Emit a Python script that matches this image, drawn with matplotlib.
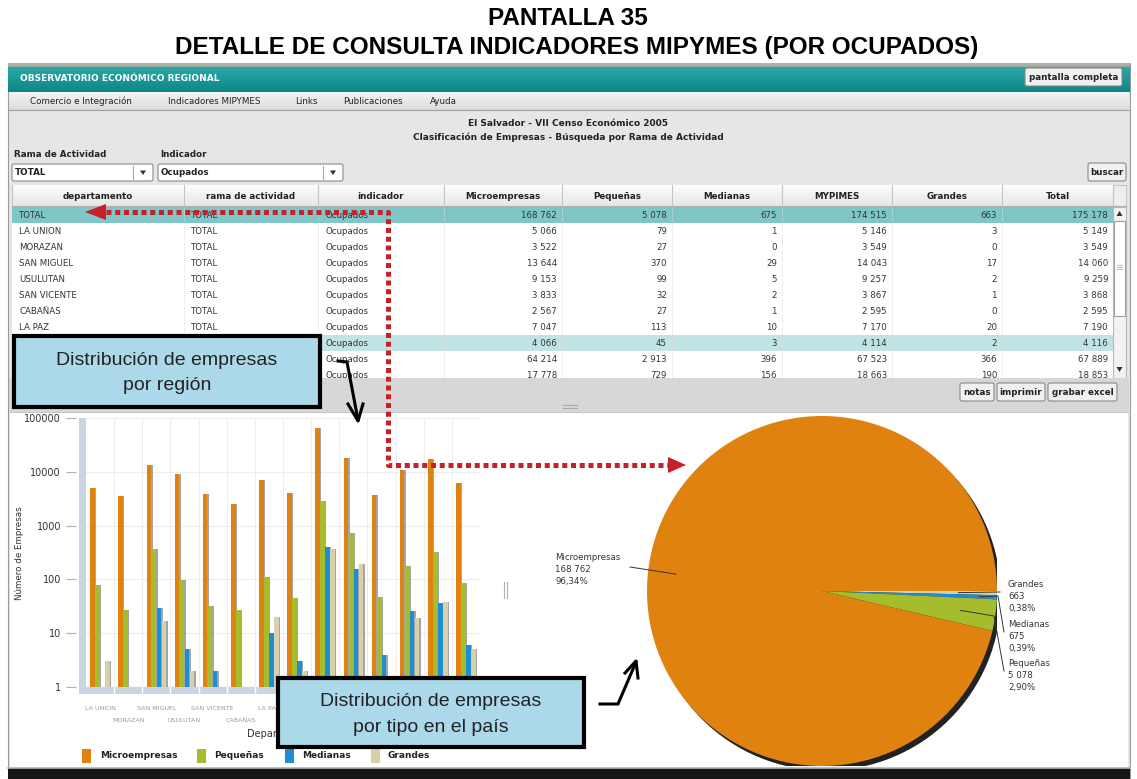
import numpy as np
import matplotlib.pyplot as plt
import matplotlib.colors as mcolors
from matplotlib.patches import Rectangle, Polygon, Circle, FancyBboxPatch

# datos (VII Censo Economico 2005, por ocupados)
departamentos = ["LA UNION", "MORAZAN", "SAN MIGUEL", "USULUTAN", "SAN VICENTE", "CABAÑAS",
                 "LA PAZ", "CUSCATLAN", "SAN SALVADOR", "LA LIBERTAD", "CHALATENANGO",
                 "SONSONATE", "SANTA ANA", "AHUACHAPAN"]
micro = [5066, 3522, 13644, 9153, 3833, 2567, 7047, 4066, 64214, 17778, 3680, 10640, 17400, 6152]
pequenas = [79, 27, 370, 99, 32, 27, 113, 45, 2913, 729, 48, 180, 330, 86]
medianas = [1, 0, 29, 5, 2, 1, 10, 3, 396, 156, 4, 26, 36, 6]
grandes = [3, 0, 17, 2, 1, 0, 20, 2, 366, 190, 0, 19, 38, 5]
tipos = ["Microempresas", "Pequeñas", "Medianas", "Grandes"]
colores = ["#e0820f", "#a5bd2c", "#1d8ed6", "#d8d0a8"]
columnas = ["departamento", "rama de actividad", "indicador", "Microempresas", "Pequeñas",
            "Medianas", "MYPIMES", "Grandes", "Total"]
menu = ["Comercio e Integración", "Indicadores MIPYMES", "Links", "Publicaciones", "Ayuda"]
yticks = [1, 10, 100, 1000, 10000, 100000]

W, H = 1137, 779
fig = plt.figure(figsize=(W / 100, H / 100), dpi=100)
fig.patch.set_facecolor("white")


def caja(x0, y0, x1, y1):
    return [x0 / W, 1 - y1 / H, (x1 - x0) / W, (y1 - y0) / H]


ui = fig.add_axes([0, 0, 1, 1])
ui.axis("off")


def degradado(x0, y0, x1, y1, c1, c2, z=1):
    a = np.array(mcolors.to_rgb(c1))
    b = np.array(mcolors.to_rgb(c2))
    t = np.linspace(0, 1, 32)[:, None]
    img = (a * (1 - t) + b * t)[:, None, :]
    ui.imshow(img, extent=[x0, x1, y1, y0], aspect="auto", zorder=z, interpolation="bilinear")


def rect(x0, y0, x1, y1, fc, ec="none", lw=0.8, z=1):
    ui.add_patch(Rectangle((x0, y0), x1 - x0, y1 - y0, fc=fc, ec=ec, lw=lw, zorder=z))


def boton(x0, y0, x1, y1, txt):
    ui.add_patch(FancyBboxPatch((x0, y0), x1 - x0, y1 - y0, boxstyle="round,pad=0,rounding_size=2",
                                fc="#f0f0f0", ec="#8a8a8a", lw=0.8, zorder=4))
    ui.text((x0 + x1) / 2, (y0 + y1) / 2 + 0.5, txt, ha="center", va="center", fontsize=6.3,
            fontweight="bold", color="#222", zorder=5)


fmt = lambda v: f"{v:,}".replace(",", " ")

# titulo
titulo_font = ["Liberation Sans Narrow", "Liberation Sans", "DejaVu Sans"]
ui.text(568, 18, "PANTALLA 35", ha="center", va="center", fontsize=17.5, fontweight="bold",
        family=titulo_font)
ui.text(577, 47, "DETALLE DE CONSULTA INDICADORES MIPYMES (POR OCUPADOS)", ha="center",
        va="center", fontsize=17.5, fontweight="bold", family=titulo_font)

# marco de la pantalla
rect(8, 63, 1130, 779, "#e6e6e8", "#9a9a9a", z=0)
degradado(8, 63, 1130, 67, "#b8b8a8", "#9aa8a0")
degradado(8, 67, 1130, 92, "#2aa9a7", "#0b8686")
ui.text(20, 78, "OBSERVATORIO ECONÓMICO REGIONAL", ha="left", va="center", fontsize=6.5,
        fontweight="bold", color="white", zorder=3)
boton(1025, 68, 1122, 86, "pantalla completa")

degradado(9, 92, 1129, 110, "#f4f4f4", "#dcdcdc")
ui.plot([9, 1129], [110, 110], color="#a0a0a0", lw=0.8, zorder=2)
for txt, xm in zip(menu, [30, 168, 295, 343, 430]):
    ui.text(xm, 101, txt, ha="left", va="center", fontsize=6.3, color="#222", zorder=3)

ui.text(568, 123, "El Salvador - VII Censo Económico 2005", ha="center", va="center",
        fontsize=6.5, fontweight="bold", color="#222")
ui.text(568, 137, "Clasificación de Empresas - Búsqueda por Rama de Actividad", ha="center",
        va="center", fontsize=6.5, fontweight="bold", color="#222")

ui.text(14, 154, "Rama de Actividad", ha="left", va="center", fontsize=6.3, fontweight="bold", color="#222")
ui.text(160, 154, "Indicador", ha="left", va="center", fontsize=6.3, fontweight="bold", color="#222")
for x0, x1, txt in [(12, 153, "TOTAL"), (158, 343, "Ocupados")]:
    ui.add_patch(FancyBboxPatch((x0, 164), x1 - x0, 17, boxstyle="round,pad=0,rounding_size=2",
                                fc="white", ec="#8a8a8a", lw=0.8, zorder=2))
    ui.text(x0 + 3, 172.5, txt, ha="left", va="center", fontsize=6.3, fontweight="bold", color="#222", zorder=3)
    ui.plot([x1 - 20, x1 - 20], [166, 179], color="#aaa", lw=0.8, zorder=3)
    ui.add_patch(Polygon([[x1 - 13, 170.5], [x1 - 7, 170.5], [x1 - 10, 175]], fc="#333", zorder=3))
boton(1088, 163, 1126, 181, "buscar")

# tabla
bordes = [12, 184, 318, 444, 562, 672, 782, 892, 1002, 1113]
degradado(12, 185, 1113, 206, "#fdfdfd", "#e6e6e6", z=2)
for i, col in enumerate(columnas):
    ui.text((bordes[i] + bordes[i + 1]) / 2, 196, col, ha="center", va="center", fontsize=6.3,
            fontweight="bold", color="#222", zorder=3)
for xb in bordes:
    ui.plot([xb, xb], [185, 206], color="#c4c4c4", lw=0.8, zorder=3)
ui.plot([12, 1126], [206, 206], color="#b0b0b0", lw=0.8, zorder=3)
rect(1113, 185, 1126, 206, "#eeeeee", "#c4c4c4", z=2)

rect(12, 207, 1113, 378, "white", z=1)
filas = [("TOTAL", sum(micro), sum(pequenas), sum(medianas), sum(grandes))]
filas += list(zip(departamentos, micro, pequenas, medianas, grandes))
for k, (dep, mi, pe, me, gr) in enumerate(filas[:11]):
    yc = 215 + 16 * k
    if k == 0:
        rect(12, yc - 8, 1113, yc + 8, "#7fc6c7", z=1.5)
    elif k == 8:
        rect(12, yc - 8, 1113, yc + 8, "#c2e3e4", z=1.5)
    mypimes = mi + pe + me
    celdas = [dep, "TOTAL", "Ocupados", fmt(mi), fmt(pe), fmt(me), fmt(mypimes), fmt(gr),
              fmt(mypimes + gr)]
    for i, c in enumerate(celdas):
        if i < 3:
            ui.text(bordes[i] + 7, yc + 0.5, c, ha="left", va="center", fontsize=6.2, color="#333", zorder=2)
        else:
            ui.text(bordes[i + 1] - 5, yc + 0.5, c, ha="right", va="center", fontsize=6.2, color="#333", zorder=2)
for xb in bordes[1:-1]:
    ui.plot([xb, xb], [207, 378], color="#dddddd", lw=0.7, ls=(0, (1, 1)), zorder=1.8)

# barra de desplazamiento
rect(1113, 207, 1126, 378, "#f2f2f2", "#b8b8b8", z=2)
rect(1114, 221, 1125, 316, "white", "#a0a0a0", z=2.5)
for yy in [265, 267, 269]:
    ui.plot([1117, 1122], [yy, yy], color="#aaa", lw=0.6, zorder=3)
ui.add_patch(Polygon([[1116.5, 216], [1122.5, 216], [1119.5, 211]], fc="#333", zorder=3))
ui.add_patch(Polygon([[1116.5, 367], [1122.5, 367], [1119.5, 372]], fc="#333", zorder=3))

# barra gris con botones
rect(9, 378, 1129, 412, "#d7d7d7", z=4)
boton(960, 383, 994, 401, "notas")
boton(997, 383, 1045, 401, "imprimir")
boton(1048, 383, 1117, 401, "grabar excel")
ui.plot([563, 577], [405, 405], color="#a8a8a8", lw=0.8, zorder=5)
ui.plot([563, 577], [407.5, 407.5], color="#a8a8a8", lw=0.8, zorder=5)

# panel inferior
rect(10, 412, 1128, 768, "white", z=4)
ui.plot([10, 1128], [412, 412], color="#c8c8c8", lw=0.8, zorder=4)
rect(8, 768, 1130, 779, "#161616", z=4)
ui.plot([8, 1130], [768, 768], color="#b5b5b5", lw=1.2, zorder=4)
ui.plot([504, 504], [582, 598], color="#b0b0b0", lw=0.8, zorder=5)
ui.plot([507, 507], [582, 598], color="#b0b0b0", lw=0.8, zorder=5)

ui.text(20, 553, "Número de Empresas", rotation=90, ha="center", va="center", fontsize=6.3,
        color="#333", zorder=5)
ui.text(283, 734, "Departamento", ha="center", va="center", fontsize=7, color="#333", zorder=5)
for txt, col, xs in zip(tipos, colores, [82, 197, 285, 371]):
    rect(xs, 749, xs + 9, 763, col, z=5)
ui.text(100, 756, tipos[0], ha="left", va="center", fontsize=6.5, fontweight="bold", color="#222", zorder=5)
ui.text(214, 756, tipos[1], ha="left", va="center", fontsize=6.5, fontweight="bold", color="#222", zorder=5)
ui.text(302, 756, tipos[2], ha="left", va="center", fontsize=6.5, fontweight="bold", color="#222", zorder=5)
ui.text(388, 756, tipos[3], ha="left", va="center", fontsize=6.5, fontweight="bold", color="#222", zorder=5)

ui.set_xlim(0, W)
ui.set_ylim(H, 0)

# grafico de barras (escala log)
ax = fig.add_axes(caja(86, 418, 480, 694))
ax.set_zorder(2)
ax.patch.set_alpha(0)
x = np.arange(len(departamentos))
desp = [-0.267, -0.089, 0.089, 0.267]
ancho = 0.165
for serie, col, d in zip([micro, pequenas, medianas, grandes], colores, desp):
    v = np.array(serie, dtype=float)
    v[v <= 0] = np.nan
    ax.bar(x + d + 0.05, v - 1, ancho, bottom=1, color="#6a6a6a", alpha=0.6, zorder=2)
    ax.bar(x + d, v - 1, ancho, bottom=1, color=col, zorder=3)
ax.set_yscale("log")
ax.set_xlim(-0.5, len(departamentos) - 0.5)
ax.set_ylim(0.742, 1e5)
for b in np.arange(0.5, len(departamentos), 1):
    ax.axvline(b, color="#ededed", lw=0.8, zorder=0)
for t in yticks[1:]:
    ax.axhline(t, color="#ededed", lw=0.8, zorder=0)
ax.axhspan(0.742, 1, color="#c9d5e3", zorder=1)
for b in np.arange(0.5, len(departamentos), 1):
    ax.plot([b, b], [0.742, 1], color="white", lw=1, zorder=1.5)
ax.add_patch(Rectangle((-0.5 - 0.249, 0), 0.249, 1, transform=ax.get_xaxis_transform(),
                       fc="#c9d5e3", ec="none", clip_on=False, zorder=1))
for s in ax.spines.values():
    s.set_visible(False)
ax.spines["left"].set_position(("outward", 7))
ax.set_yticks(yticks)
ax.set_yticklabels([str(t) for t in yticks])
ax.minorticks_off()
ax.tick_params(axis="y", length=7, color="#b0b0b0", labelsize=7, labelcolor="#333", pad=4)
ax.set_xticks([])
# solo las etiquetas visibles (las demas quedan tapadas por el recuadro)
for i, dep in enumerate(departamentos[:7]):
    ax.annotate(dep, xy=(i, 0), xycoords=("data", "axes fraction"),
                xytext=(0, -14 * 0.72 if i % 2 == 0 else -26 * 0.72), textcoords="offset points",
                ha="center", va="center", fontsize=4.6, color="#9a9a9a")

# grafico de torta
pax = fig.add_axes(caja(647, 416, 997, 766))
pax.set_zorder(2)
pax.patch.set_alpha(0)
tot = [sum(grandes), sum(medianas), sum(pequenas), sum(micro)]
nombres = ["Grandes", "Medianas", "Pequeñas", "Microempresas"]
pax.add_patch(Circle((0.022, -0.026), 1.0, fc="#222222", zorder=0))
cunas, _ = pax.pie(tot, colors=[colores[3], colores[2], colores[1], colores[0]], startangle=0,
                   counterclock=False, radius=1.0, wedgeprops=dict(lw=0, zorder=1))
pax.set_xlim(-1, 1)
pax.set_ylim(-1, 1)
pax.set_aspect("equal")
pax.axis("off")

total = sum(tot)
px2 = lambda X, Y: ((X - 822) / 175, (591 - Y) / 175)
etiquetas = {"Microempresas": [(555, 553)], "Grandes": [(1008, 580)], "Medianas": [(1008, 620)],
             "Pequeñas": [(1008, 659)]}
quiebres = {"Microempresas": [(630, 567)], "Grandes": [(1000, 592)],
            "Medianas": [(998, 596), (1004, 632)], "Pequeñas": [(994, 616), (1004, 671)]}
radios = {"Microempresas": 0.84, "Grandes": 0.78, "Medianas": 0.9, "Pequeñas": 0.8}
for w, nom, val in zip(cunas, nombres, tot):
    th = np.deg2rad((w.theta1 + w.theta2) / 2)
    r = radios[nom]
    pts = [(r * np.cos(th), r * np.sin(th))] + [px2(*p) for p in quiebres[nom]]
    xs, ys = zip(*pts)
    pax.plot(xs, ys, color="#333", lw=0.7, zorder=3, clip_on=False)
    tx, ty = px2(*etiquetas[nom][0])
    pct = f"{100 * val / total:.2f}".replace(".", ",") + "%"
    pax.text(tx, ty, f"{nom}\n{fmt(val)}\n{pct}", ha="left", va="top", fontsize=6.2,
             color="#333", linespacing=1.45, clip_on=False, zorder=3)

# anotaciones superpuestas
ov = fig.add_axes([0, 0, 1, 1])
ov.set_zorder(5)
ov.patch.set_alpha(0)
ov.axis("off")
ov.set_xlim(0, W)
ov.set_ylim(H, 0)
rojo = "#c8202a"
ov.plot([106, 388, 388, 668], [212, 212, 465, 465], color=rojo, lw=3.6, ls=(0, (1, 0.75)),
        solid_capstyle="butt", dash_capstyle="butt")
ov.add_patch(Polygon([[85, 212], [106, 204], [106, 220]], fc=rojo, ec="none"))
ov.add_patch(Polygon([[686, 465], [668, 457], [668, 473]], fc=rojo, ec="none"))

for (x0, y0, x1, y1), l1, l2 in [((14, 336, 320, 407), "Distribución de empresas", "por región"),
                                 ((278, 678, 584, 747), "Distribución de empresas", "por tipo en el país")]:
    ov.add_patch(Rectangle((x0, y0), x1 - x0, y1 - y0, fc="#acd9e9", ec="black", lw=3))
    ov.text((x0 + x1) / 2, y0 + 24, l1, ha="center", va="center", fontsize=14,
            family=["Liberation Sans", "DejaVu Sans"], color="#222")
    ov.text((x0 + x1) / 2, y0 + 49, l2, ha="center", va="center", fontsize=14,
            family=["Liberation Sans", "DejaVu Sans"], color="#222")

ov.plot([338, 347, 358], [361, 362, 420], color="black", lw=2.2, solid_joinstyle="miter")
ov.plot([348, 358, 363], [404, 421, 404], color="black", lw=2.2)
ov.plot([600, 618, 636], [704, 704, 662], color="black", lw=2.2, solid_joinstyle="miter")
ov.plot([625, 636, 638], [673, 661, 678], color="black", lw=2.2)

fig.savefig("out.png", dpi=100)
